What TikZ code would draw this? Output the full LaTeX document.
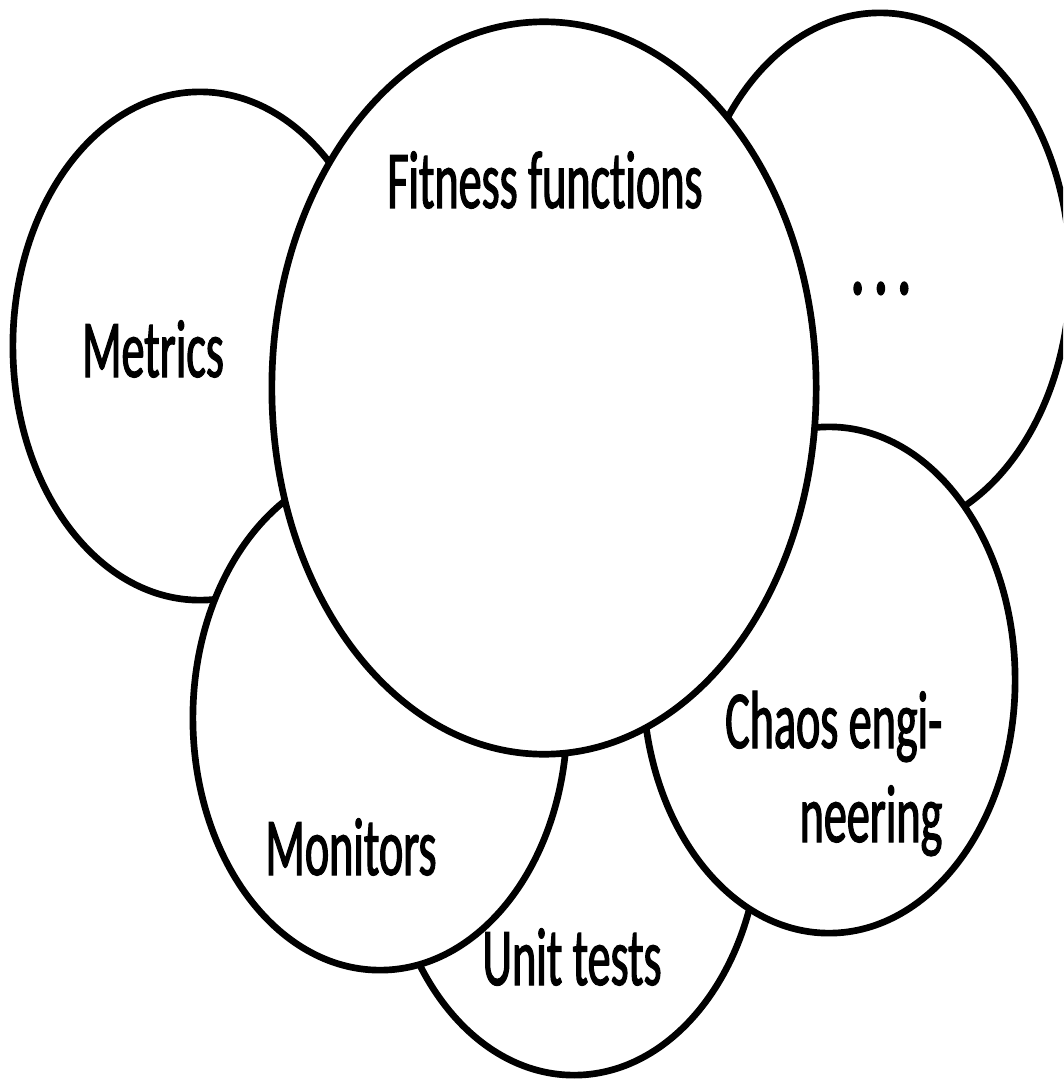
\documentclass[tikz,border=0pt]{standalone}
\usepackage{fontspec}
\setmainfont{Carlito}[FakeStretch=0.56,FakeBold=1.4,Ligatures={NoCommon}]
\usetikzlibrary{shapes.geometric}
\begin{document}
\begin{tikzpicture}[x=0.01cm,y=-0.01cm,
  blob/.style={ellipse, draw=black, line width=1.9pt, fill=white, inner sep=0pt, outer sep=0pt},
  lbl/.style={font=\fontsize{23.4}{27}\selectfont, inner sep=0pt, anchor=base}]
\useasboundingbox (0,0) rectangle (1063,1082);
\clip (0,0) rectangle (1063,1082);
\fill[white] (0,0) rectangle (1063,1082);
\node[blob, minimum width=3.80cm, minimum height=5.20cm] (dots) at (880,273) {};
\node[blob, minimum width=3.74cm, minimum height=5.08cm] (metrics) at (200,346) {};
\node[blob, minimum width=3.72cm, minimum height=5.00cm] (unit) at (574,825) {};
\node[blob, minimum width=3.74cm, minimum height=5.04cm] (monitors) at (380,718) {};
\node[blob, minimum width=3.72cm, minimum height=5.06cm] (chaos) at (829,680) {};
\node[blob, minimum width=5.44cm, minimum height=7.32cm] (fitness) at (544,388) {};
\node[lbl] (tmetrics) at (153,377) {Metrics};
\node[lbl] (tfit) at (545,208) {Fitness functions};
\node[lbl] (tdots) at (881,294) {\fontsize{30}{30}\selectfont.\kern0.08em.\kern0.08em.};
\node[lbl, anchor=base east] (tchaos1) at (943,748) {Chaos engi-};
\node[lbl, anchor=base east] (tchaos2) at (943,842) {neering};
\node[lbl] (tmon) at (351,875) {Monitors};
\node[lbl] (tunit) at (572,985) {Unit tests};
\end{tikzpicture}
\end{document}
